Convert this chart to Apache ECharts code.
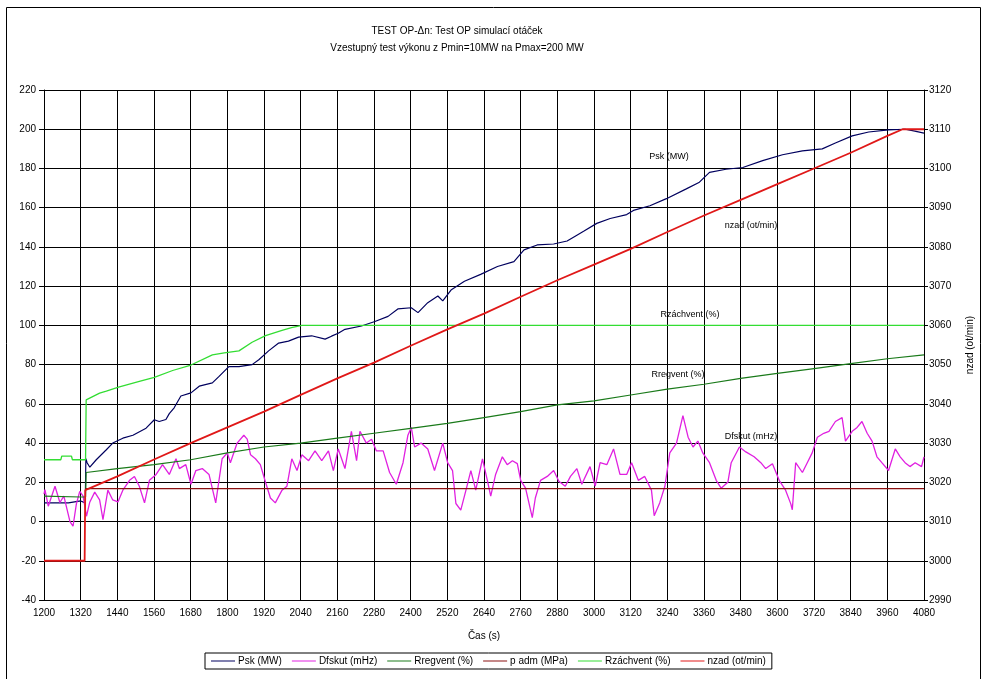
<!DOCTYPE html>
<html><head><meta charset="utf-8">
<script src="https://cdn.jsdelivr.net/npm/echarts@6/dist/echarts.min.js"></script>
<style>html,body{margin:0;padding:0;background:#fff}#c{width:983px;height:679px}</style>
</head><body><div id="c"></div>
<script>
// ---- data (time in s) ----
const pskT = [1200,1280,1282,1320,1322,1335,1337,1341,1350,1371,1404,1425,1458,1491,1534,1561,1577,1599,1610,1626,1648,1681,1708,1751,1773,1805,1838,1881,1903,1935,1968,2000,2033,2076,2120,2141,2163,2185,2239,2283,2326,2358,2402,2424,2456,2489,2505,2532,2576,2629,2684,2738,2771,2814,2868,2912,2944,2966,3009,3053,3107,3129,3183,3237,3302,3345,3378,3432,3487,3552,3617,3682,3747,3790,3845,3899,3964,4018,4050,4080];
const pskV = [9.5,9.5,10.5,10.5,9.5,9.5,32,30,27.7,31.5,36.6,40,42.5,44,47.6,51.9,51,52,55,58,64,65.6,69,70.7,74,79,79,80,82.5,87,91,92,94,94.7,93,94.5,96,98,99.7,102,104.6,108.4,109,106.5,111.6,115,112.5,118,122.5,126,130,132.5,138.5,141,141.5,143,146,148,152,154.5,156.5,158.6,161,164.6,169.6,173,178,179.6,180.5,184,187,189,190,193,196.6,198.6,199.7,200,199,198];

const dfT = [1200,1203,1214,1236,1252,1265,1285,1295,1306,1317,1328,1339,1350,1366,1382,1393,1409,1425,1442,1458,1480,1496,1512,1529,1545,1567,1588,1610,1632,1643,1664,1681,1697,1718,1740,1762,1783,1800,1810,1832,1854,1865,1876,1892,1908,1925,1941,1957,1979,1995,2011,2028,2044,2066,2087,2109,2131,2147,2163,2185,2206,2223,2234,2255,2272,2288,2310,2331,2353,2375,2391,2402,2413,2434,2456,2478,2505,2521,2537,2548,2564,2581,2597,2613,2635,2651,2662,2678,2700,2716,2733,2749,2760,2776,2798,2808,2825,2847,2868,2885,2906,2923,2944,2960,2987,3004,3020,3042,3064,3085,3107,3123,3145,3166,3188,3197,3215,3232,3248,3270,3291,3308,3324,3340,3356,3378,3400,3416,3438,3449,3476,3497,3524,3546,3562,3584,3606,3627,3644,3649,3660,3682,3698,3714,3731,3752,3769,3790,3812,3823,3845,3861,3877,3894,3910,3926,3942,3964,3986,4002,4018,4034,4051,4072,4080];
const dfV = [14,16.3,7.8,18,9.7,13,0,-2.4,9,15.4,13,2.7,10,15,11,1,16,11,10,16,21,23,18,9.5,21,24,29,24,32,27,29,19,26,27,24,9.5,32,35,30,40,44,42,34,32,29,20,12,9.5,16,18,32,26,34,31,36,31,36,26,37,27,46,31,46,40,42,36,36,25,19,30,44,48,38,40,37,26,40,30,26,9.2,5.8,16,26,16,32,21,13,24,33,29,31,29.5,21,17,2,12,21,23,26,20.5,18,23,27,19,28,18,30,29,37,24,24,30,21,23,16,3,9.5,18,35,40,54,43,38,41,35,30,21,17,20,30,38,35.5,33,30,27,29.5,21,16,9,6,30,25,30,35,43,45,46,51,53,41,46,48,51,45,41,33,30,26,37,33,30,28,30,28,33];

const regT = [1200,1320,1336,1338,1440,1560,1680,1800,1920,2040,2160,2280,2400,2520,2640,2760,2880,3000,3120,3240,3360,3480,3600,3720,3840,3960,4080];
const regV = [13,12.5,12.5,25,27,29,31.5,35,38,40,42.5,45,47.5,50,53,56,59.5,61.5,64.5,67.5,70,73,75.5,78,80.5,83,85];

const padmT = [1336,1560,1800,2040,2280,2520,2760,3000,3240,3480,3720,3960,4080];
const padmV = [16.8,16.8,16.8,16.8,16.8,16.8,16.8,16.8,16.8,16.8,16.8,16.8,16.8];

const zachT = [1200,1255,1258,1290,1293,1336,1338,1344,1382,1404,1444,1512,1561,1621,1681,1751,1790,1838,1881,1925,1979,2010,2044,2400,2800,3200,3600,4080];
const zachV = [31.5,31.5,33.3,33.3,31.5,31.5,62,62.5,65.5,66.5,68.5,71.5,73.5,77,79.8,85,86,87,91.4,94.8,97.4,98.8,100,100,100,100,100,100];

const nzadT = [1200,1333,1335,1440,1560,1680,1800,1920,2040,2160,2280,2400,2520,2640,2760,2880,3000,3120,3240,3360,3480,3600,3720,3840,3960,4010,4080];
const nzadV = [3000,3000,3018,3021.5,3025.8,3030,3034,3038,3042.3,3046.5,3050.5,3054.8,3059,3063,3067.3,3071.5,3075.5,3079.5,3083.8,3088,3092,3096,3100,3104,3108.3,3110,3110];

const titleLines = ['TEST OP-Δn: Test OP simulací otáček','Vzestupný test výkonu z Pmin=10MW na Pmax=200 MW'];
const names = ['Psk (MW)','Dfskut (mHz)','Rregvent (%)','p adm (MPa)','Rzáchvent (%)','nzad (ot/min)'];

const FONT = '"Liberation Sans", Arial, sans-serif';
function pairs(t,v){return t.map((x,i)=>[x,v[i]]);}
function mk(name,t,v,color,yIdx,w){
  return {name,type:'line',data:pairs(t,v),yAxisIndex:yIdx,showSymbol:false,symbol:'none',
    lineStyle:{color,width:w},itemStyle:{color},emphasis:{disabled:true},animation:false};
}
function txt(text,x,y,size){
  return {type:'text',x,y,style:{text,fill:'#000',font:size+'px '+FONT,align:'center',verticalAlign:'middle',textAlign:'center',textVerticalAlign:'middle'}};
}
const plain = v => String(v);
const axisTxt = {color:'#000',fontSize:10,fontFamily:FONT};
const chart = echarts.init(document.getElementById('c'));
chart.setOption({
  animation:false,
  grid:{left:44,right:54,top:90,bottom:79},
  xAxis:{type:'value',min:1200,max:4080,interval:120,name:'Čas (s)',nameLocation:'middle',nameGap:31,
    nameTextStyle:axisTxt,axisLine:{lineStyle:{color:'#000'}},axisTick:{show:true,length:4,lineStyle:{color:'#000'}},
    axisLabel:Object.assign({margin:8,formatter:plain},axisTxt),splitLine:{show:true,lineStyle:{color:'#000',width:1}}},
  yAxis:[
    {type:'value',min:-40,max:220,interval:20,position:'left',axisLine:{show:true,lineStyle:{color:'#000'}},
     axisTick:{show:true,length:5,lineStyle:{color:'#000'}},axisLabel:Object.assign({margin:8,formatter:plain},axisTxt),
     splitLine:{show:true,lineStyle:{color:'#000',width:1}}},
    {type:'value',min:2990,max:3120,interval:10,position:'right',name:'nzad (ot/min)',nameLocation:'middle',nameGap:41,nameRotate:90,
     nameTextStyle:axisTxt,axisLine:{show:true,lineStyle:{color:'#000'}},
     axisTick:{show:true,length:4,lineStyle:{color:'#000'}},axisLabel:Object.assign({margin:5,formatter:plain},axisTxt),splitLine:{show:false}}
  ],
  legend:{data:names,left:205,top:653,orient:'horizontal',icon:'rect',itemWidth:24,itemHeight:1,itemGap:10,
    borderColor:'#000',borderWidth:1,padding:[3,6],borderRadius:0,textStyle:{color:'#000',fontSize:10,fontFamily:FONT,padding:[0,0,0,-2]}},
  series:[
    mk(names[0],pskT,pskV,'#00005e',0,1.2),
    mk(names[1],dfT,dfV,'#e020e0',0,1.3),
    mk(names[2],regT,regV,'#1a7a1a',0,1.2),
    mk(names[3],padmT,padmV,'#8a1010',0,1.2),
    mk(names[4],zachT,zachV,'#33dd33',0,1.3),
    mk(names[5],nzadT,nzadV,'#e01818',1,1.8)
  ],
  graphic:[
    {type:'rect',shape:{x:6.5,y:7.5,width:974,height:700},style:{fill:'none',stroke:'#000',lineWidth:1},silent:true},
    txt(titleLines[0],457,31,10),
    txt(titleLines[1],457,48,10),
    txt('Psk (MW)',669,157,9),
    txt('nzad (ot/min)',751,226,9),
    txt('Rzáchvent (%)',690,315,9),
    txt('Rregvent (%)',678,375,9),
    txt('Dfskut (mHz)',751,437,9)
  ]
});
</script></body></html>
